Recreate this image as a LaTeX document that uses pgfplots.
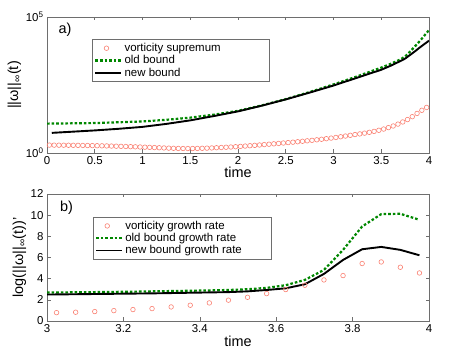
\documentclass[border=0pt]{standalone}
\usepackage{fontspec}
\setmainfont{Liberation Sans}
\usepackage{pgfplots}
\pgfplotsset{compat=1.18}
\definecolor{salm}{RGB}{250,128,114}
\definecolor{dgreen}{RGB}{0,135,0}
\definecolor{frame}{RGB}{110,110,110}
\newcommand{\tickfont}{\fontsize{11.5}{13}\selectfont}
\newcommand{\labfont}{\fontsize{14.5}{16}\selectfont}
\pgfplotsset{
  myaxis/.style={
    scale only axis, width=382bp,
    axis line style={frame, line width=0.7pt},
    tick style={frame, line width=0.6pt},
    major tick length=3.5bp,
    tick align=inside,
    xtick pos=both, ytick pos=both,
    tick label style={font=\tickfont, text=black},
    /pgf/number format/assume math mode=true,
    label style={font=\labfont},
    legend cell align=left,
    legend style={draw=frame, line width=0.6pt, fill=white, font=\tickfont,
      inner xsep=2bp, inner ysep=2bp, row sep=-1.5bp},
    clip=true,
  },
  lineleg/.style={legend image code/.code={\draw[##1] (0bp,0bp) -- (26bp,0bp);}},
  markleg/.style={legend image code/.code={\draw[mark repeat=2,mark phase=2,##1] plot coordinates {(0bp,0bp) (11bp,0bp) (26bp,0bp)};}},
  oldb/.style={dgreen, line width=2.2bp, dash pattern=on 2.6bp off 2bp},
  newb/.style={black, line width=1.9bp},
  vort/.style={only marks, mark=o, mark size=2.3bp, salm, mark options={line width=0.6pt}},
}
\begin{document}
\begin{tikzpicture}
\useasboundingbox (0,0) rectangle (458bp,354bp);
% ---------------- top panel ----------------
\begin{axis}[myaxis, at={(47bp,201bp)}, anchor=south west, height=136bp,
  xmin=0, xmax=4, ymode=log, ymin=1, ymax=100000,
  xtick={0,0.5,...,4}, ytick={1,100000}, yminorticks=false,
  yticklabels={10\textsuperscript{0},10\textsuperscript{5}},
  xticklabel style={/pgf/number format/fixed},
  xlabel={time}, ylabel={||ω||\textsubscript{∞}(t)},
  xlabel style={at={(axis description cs:0.5,-0.14)}, anchor=center},
  ylabel style={at={(axis description cs:-0.085,0.5)}, anchor=center},
  legend style={at={(0.118,0.838)}, anchor=north west},
]
\addplot[vort, markleg] coordinates {
(0.025,1.950)(0.075,1.945)(0.125,1.941)(0.175,1.936)(0.225,1.928)(0.275,1.919)
(0.325,1.910)(0.375,1.897)(0.425,1.884)(0.475,1.871)(0.525,1.854)(0.575,1.837)
(0.625,1.820)(0.675,1.799)(0.725,1.778)(0.775,1.758)(0.825,1.734)(0.875,1.710)
(0.925,1.687)(0.975,1.663)(1.025,1.637)(1.075,1.611)(1.125,1.585)(1.175,1.560)
(1.225,1.535)(1.275,1.510)(1.325,1.489)(1.375,1.472)(1.425,1.462)(1.475,1.459)
(1.525,1.462)(1.575,1.472)(1.625,1.489)(1.675,1.510)(1.725,1.535)(1.775,1.563)
(1.825,1.592)(1.875,1.626)(1.925,1.660)(1.975,1.702)(2.025,1.750)(2.075,1.799)
(2.125,1.854)(2.175,1.910)(2.225,1.972)(2.275,2.037)(2.325,2.104)(2.375,2.173)
(2.425,2.249)(2.475,2.328)(2.525,2.410)(2.575,2.500)(2.625,2.594)(2.675,2.698)
(2.725,2.805)(2.775,2.924)(2.825,3.055)(2.875,3.199)(2.925,3.357)(2.975,3.532)
(3.025,3.733)(3.075,3.954)(3.125,4.198)(3.175,4.467)(3.225,4.764)(3.275,5.035)
(3.325,5.370)(3.375,5.754)(3.425,6.237)(3.475,6.839)(3.525,7.586)(3.575,8.570)
(3.625,9.840)(3.675,11.53)(3.725,13.84)(3.775,16.98)(3.825,21.63)(3.875,28.51)
(3.925,37.15)(3.975,47.32)};
\addlegendentry{\makebox[141bp][l]{vorticity supremum}}
\addplot[oldb, lineleg] coordinates {
(0.0,12.02)(0.25,12.30)(0.5,12.59)(0.75,13.49)(1.0,14.45)(1.25,16.60)(1.5,19.95)
(1.75,25.70)(2.0,35.48)(2.25,56.23)(2.5,95.50)(2.75,173.8)(3.0,331.1)(3.25,660.7)
(3.5,1380)(3.6,1905)(3.7,2754)(3.75,3548)(3.8,5248)(3.85,8128)(3.9,12590)
(3.95,20420)(4.0,33110)};
\addlegendentry{old bound}
\addplot[newb, lineleg] coordinates {
(0.05,5.495)(0.25,6.026)(0.5,6.761)(0.75,7.762)(1.0,9.120)(1.25,11.75)(1.5,15.85)
(1.75,22.91)(2.0,33.88)(2.25,54.95)(2.5,93.33)(2.75,166.0)(3.0,302.0)(3.25,588.8)
(3.5,1148)(3.6,1622)(3.7,2399)(3.75,2951)(3.8,3981)(3.85,5370)(3.9,7413)
(3.95,10000)(4.0,13490)};
\addlegendentry{new bound}
\node[font=\labfont, anchor=center] at (rel axis cs:0.047,0.904) {a)};
\end{axis}
% ---------------- bottom panel ----------------
\begin{axis}[myaxis, at={(47bp,33bp)}, anchor=south west, height=127bp,
  xmin=3, xmax=4, ymin=0, ymax=12,
  xtick={3,3.2,3.4,3.6,3.8,4}, ytick={0,2,...,12},
  xlabel={time}, ylabel={log(||ω||\textsubscript{∞}(t))'},
  xlabel style={at={(axis description cs:0.5,-0.157)}, anchor=center},
  ylabel style={at={(axis description cs:-0.072,0.5)}, anchor=center},
  legend style={at={(0.120,0.821)}, anchor=north west},
]
\addplot[vort, markleg] coordinates {
(3.025,0.79)(3.075,0.83)(3.125,0.89)(3.175,0.98)(3.225,1.08)(3.275,1.17)(3.325,1.33)
(3.375,1.49)(3.425,1.71)(3.475,1.97)(3.525,2.24)(3.575,2.59)(3.625,2.97)(3.675,3.38)
(3.725,3.88)(3.775,4.29)(3.825,5.43)(3.875,5.58)(3.925,5.08)(3.975,4.54)};
\addlegendentry{\makebox[142bp][l]{vorticity growth rate}}
\addplot[oldb, lineleg] coordinates {
(3.0,2.70)(3.025,2.70)(3.075,2.71)(3.125,2.73)(3.175,2.75)(3.225,2.77)(3.275,2.80)
(3.325,2.83)(3.375,2.86)(3.425,2.89)(3.475,2.93)(3.525,3.00)(3.575,3.13)(3.625,3.38)
(3.675,3.88)(3.725,4.83)(3.775,6.72)(3.825,8.93)(3.875,10.1)(3.925,10.13)(3.975,9.56)};
\addlegendentry{old bound growth rate}
\addplot[newb, lineleg] coordinates {
(3.0,2.50)(3.025,2.51)(3.075,2.53)(3.125,2.55)(3.175,2.57)(3.225,2.59)(3.275,2.61)
(3.325,2.64)(3.375,2.67)(3.425,2.70)(3.475,2.73)(3.525,2.80)(3.575,2.93)(3.625,3.09)
(3.675,3.47)(3.725,4.45)(3.775,5.77)(3.825,6.78)(3.875,7.0)(3.925,6.72)(3.975,6.21)};
\addlegendentry{new bound growth rate}
\node[font=\labfont, anchor=center] at (rel axis cs:0.051,0.894) {b)};
\end{axis}
\end{tikzpicture}
\end{document}
